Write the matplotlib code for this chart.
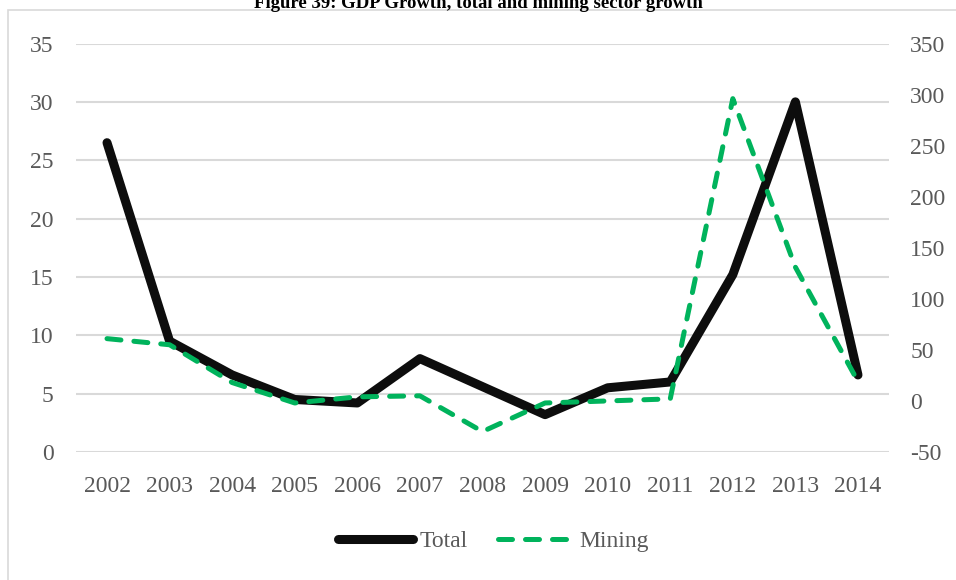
import matplotlib.pyplot as plt
from matplotlib.patches import Rectangle

years = ["2002", "2003", "2004", "2005", "2006", "2007", "2008",
         "2009", "2010", "2011", "2012", "2013", "2014"]
total = [26.5, 9.5, 6.6, 4.5, 4.2, 8.0, 5.6, 3.2, 5.5, 6.0, 15.2, 30.0, 6.6]
mining = [61, 55, 18, -2, 4, 5, -30, -2, 0, 2, 296, 131, 19]

left_ticks = [0, 5, 10, 15, 20, 25, 30, 35]
right_ticks = [-50, 0, 50, 100, 150, 200, 250, 300, 350]

serif = ["Liberation Serif", "DejaVu Serif"]
tick_color = "#595959"
fs = 17

plt.rcParams["axes.unicode_minus"] = False


def main():
    fig = plt.figure(figsize=(9.56, 5.8), dpi=100)
    ax = fig.add_axes([0.0792, 0.2207, 0.851, 0.7043])
    ax2 = ax.twinx()

    # chart frame and the title, which sits half outside the picture
    fig.patches.append(Rectangle((8 / 956, -0.1), 1.1, 1 - 10 / 580 + 0.1,
                                 transform=fig.transFigure, fill=False,
                                 edgecolor="#d9d9d9", lw=1.2, zorder=0))
    fig.text(0.5, 1 - 8 / 580, "Figure 39: GDP Growth, total and mining sector growth",
             ha="center", va="baseline", fontsize=13.5, fontweight="bold",
             family=serif, color="black")

    x = range(len(years))
    tl, = ax.plot(x, total, color="#0d0d0d", lw=6.5, solid_capstyle="round",
                  solid_joinstyle="round", label="Total")
    ml, = ax2.plot(x, mining, color="#00b35c", lw=3.6, dashes=(2.8, 2.6),
                   dash_capstyle="round", dash_joinstyle="round", label="Mining")

    ax.set_xlim(-0.5, len(years) - 0.5)
    ax.set_ylim(0, 35)
    ax2.set_ylim(-50, 350)
    ax.set_yticks(left_ticks)
    ax2.set_yticks(right_ticks)
    ax.set_xticks(list(x))
    ax.set_xticklabels(years)
    ax.yaxis.grid(True, color="#d9d9d9", lw=1.5)
    ax.set_axisbelow(True)

    for a in (ax, ax2):
        for s in a.spines.values():
            s.set_visible(False)
        a.tick_params(length=0, labelsize=fs, labelcolor=tick_color)
        for t in a.get_xticklabels() + a.get_yticklabels():
            t.set_family(serif)
    ax.tick_params(axis="y", pad=16)
    ax2.tick_params(axis="y", pad=15)
    ax.tick_params(axis="x", pad=17)

    fig.legend([tl, ml], ["Total", "Mining"], loc="center",
               bbox_to_anchor=(0.516, 1 - 541 / 580), ncol=2, frameon=False,
               prop={"family": serif, "size": fs}, labelcolor=tick_color,
               handlelength=3.2, handletextpad=0.25, columnspacing=1.3)

    fig.savefig("out.png", dpi=100)


main()
